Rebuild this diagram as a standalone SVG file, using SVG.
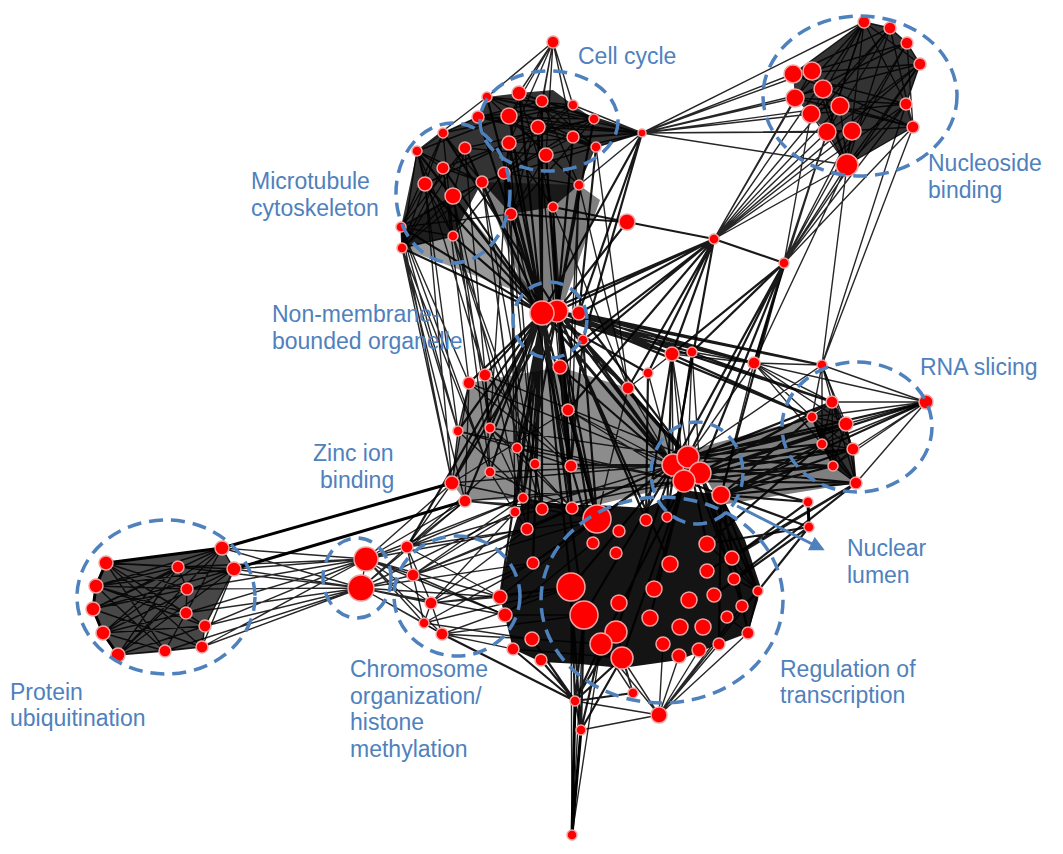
<svg xmlns="http://www.w3.org/2000/svg" width="1063" height="854" viewBox="0 0 1063 854">
<defs>
<style>
.hull{fill:#000;stroke:none}
.e1{fill:none;stroke:#000;stroke-width:1.4;stroke-opacity:.85}
.e2{fill:none;stroke:#000;stroke-width:2.2;stroke-opacity:.9}
.e3{fill:none;stroke:#000;stroke-width:3}
.nd circle{fill:#ff0000;stroke:#f2a2a2;stroke-width:1.5}
.cl{fill:none;stroke:#4f81bd;stroke-width:3.5;stroke-dasharray:14 8}
.lb{font-family:"Liberation Sans",Arial,sans-serif;font-size:23px;fill:#4f81bd}
</style>
<marker id="ah" viewBox="0 0 10 10" refX="8" refY="5" markerWidth="5" markerHeight="5" orient="auto" markerUnits="strokeWidth"><path d="M0,0 L10,5 L0,10 z" fill="#4f81bd"/></marker>
</defs>
<rect width="1063" height="854" fill="#fff"/>
<g id="connectors">
<polygon class="hull" opacity=".8" points="487,97 519,93 553,90 573,105 594,119 642,133 596,147 579,185 553,207 511,214 482,182 453,236 402,248 401,227 417,151 443,133 478,117"/>
<polygon class="hull" opacity=".8" points="864,22 890,28 907,43 920,64 906,104 913,127 847,165 827,132 795,98 793,74"/>
<polygon class="hull" opacity=".72" points="106,563 222,548 234,569 205,626 202,647 165,651 118,655 103,633 93,609 96,586"/>
<polygon class="hull" opacity=".92" points="523,499 573,505 597,505 646,508 683,490 721,495 745,540 760,585 758,600 748,633 719,644 679,660 622,668 580,664 541,662 513,649 500,597 510,540"/>
<polygon class="hull" opacity=".8" points="832,402 846,424 853,449 856,483 833,466 822,444 812,417"/>
<polygon class="hull" opacity=".45" points="469,383 560,367 628,388 672,440 683,484 597,505 523,499 465,501 452,483 458,431"/>
<polygon class="hull" opacity=".5" points="690,450 812,417 856,483 721,505"/>
<polygon class="hull" opacity=".5" points="482,182 579,185 600,200 565,300 530,305"/>
<polygon class="hull" opacity=".4" points="401,227 453,196 540,300 402,248"/>
<path class="e1" d="M487 97L573 105M487 97L594 119M487 97L642 133M487 97L596 147M487 97L579 185M519 93L594 119M519 93L596 147M519 93L642 133M519 93L504 173M542 101L478 117M542 101L596 147M542 101L511 214M573 105L478 117M573 105L509 143M573 105L504 173M594 119L478 117M594 119L509 143M594 119L511 214M478 117L642 133M509 116L642 133M538 127L642 133M573 137L642 133M546 155L642 133M509 143L642 133M478 117L596 147M509 116L579 185M538 127L504 173M509 143L553 207M546 155L511 214M504 173L579 185M509 116L596 147M519 93L553 207M542 101L579 185M594 119L504 173M573 137L478 117M573 137L504 173M596 147L642 133M594 119L642 133M573 105L642 133M579 185L642 133M553 42L487 97M553 42L519 93M553 42L542 101M553 42L538 127M553 42L546 155M553 42L509 116M553 42L573 105M553 42L509 143M553 42L573 137"/>
<path class="e1" d="M443 133L425 184M443 133L401 227M443 133L453 236M417 151L482 182M417 151L453 236M465 148L401 227M465 148L402 248M443 168L482 182M443 168L453 236M425 184L453 236M482 182L401 227M482 182L402 248M453 196L401 227M453 196L402 248M401 227L453 236M453 236L402 248M417 151L402 248M443 133L482 182M443 168L402 248M425 184L402 248M417 151L509 116M443 133L478 117M465 148L546 155M443 168L509 143M482 182L596 147M425 184L509 143M453 196L504 173M401 227L511 214M453 236L504 173M417 151L487 97M443 133L573 105M465 148L594 119M443 133L417 151M417 151L425 184M425 184L401 227M401 227L402 248M417 151L443 168M465 148L453 196"/>
<path class="e2" d="M538 127L542 313M509 143L542 313M546 155L557 311M504 173L542 313M579 185L557 311M553 207L557 311M511 214L542 313M573 137L557 311M596 147L579 313M509 116L542 313M478 117L542 313M482 182L542 313M453 196L542 313M453 236L542 313M401 227L542 313M402 248L542 313M465 148L542 313M443 168L542 313M425 184L542 313M594 119L557 311M542 101L542 313M519 93L542 313M487 97L542 313M443 133L557 311M417 151L542 313M642 133L579 313M642 133L542 313M642 133L583 340"/>
<path class="e1" d="M401 227L469 383M402 248L458 431M402 248L452 483M401 227L452 483M453 236L485 375M453 196L490 428M425 184L458 431M453 196L490 472M511 214L517 448M504 173L535 464M553 207L568 410M579 185L571 466M546 155L568 410M482 182L517 448M453 236L535 464M511 214L571 466M443 168L469 383M417 151L485 375M425 184L452 483M402 248L465 501M509 143L490 428M504 173L523 498M553 207L572 508M579 185L628 388M453 236L542 509M511 214L515 512M482 182L523 498M453 196L527 529M401 227L490 472M402 248L490 472M596 147L628 388M553 207L628 388M579 185L568 410M546 155L571 466M401 227L458 431M465 148L490 428M509 143L535 464M482 182L542 509M538 127L572 508"/>
<path class="e2" d="M627 222L511 214M627 222L557 311M627 222L714 239M627 222L553 207M714 239L557 311M714 239L579 313M714 239L583 340M714 239L560 367M714 239L672 354M714 239L784 263M714 239L568 410M714 239L648 373M714 239L673 465M714 239L542 313M714 239L628 388M784 263L754 363M784 263L688 457M784 263L700 473M784 263L692 352M784 263L721 495M784 263L672 354M784 263L673 465"/>
<path class="e1" d="M793 74L642 133M812 71L642 133M795 98L642 133M811 114L642 133M823 89L642 133M827 132L642 133M840 106L642 133M847 165L642 133M864 22L642 133M852 131L642 133M864 22L714 239M890 28L714 239M812 71L714 239M840 106L714 239M906 104L714 239M847 165L714 239M852 131L714 239M827 132L714 239M920 64L714 239M795 98L714 239M847 165L784 263M827 132L784 263M852 131L784 263M913 127L784 263M906 104L784 263M907 43L784 263M920 64L784 263M811 114L784 263M864 22L784 263M913 127L822 365M847 165L822 365M906 104L822 365M827 132L754 363M847 165L754 363"/>
<path class="e1" d="M864 22L793 74M864 22L795 98M864 22L811 114M864 22L827 132M864 22L847 165M890 28L793 74M890 28L811 114M890 28L827 132M890 28L847 165M907 43L812 71M907 43L795 98M907 43L852 131M920 64L793 74M920 64L823 89M920 64L827 132M920 64L847 165M906 104L793 74M906 104L795 98M906 104L811 114M906 104L847 165M913 127L793 74M913 127L795 98M913 127L840 106M913 127L847 165M913 127L827 132M812 71L847 165M823 89L847 165M840 106L847 165M811 114L847 165M827 132L847 165M852 131L847 165M864 22L906 104M890 28L913 127M907 43L913 127M864 22L920 64M864 22L890 28M890 28L907 43M907 43L920 64M920 64L906 104M906 104L913 127"/>
<path class="e2" d="M542 313L485 375M542 313L469 383M542 313L458 431M542 313L490 428M542 313L517 448M542 313L535 464M542 313L490 472M542 313L452 483M542 313L465 501M542 313L523 498M542 313L515 512M542 313L542 509M542 313L572 508M542 313L571 466M542 313L568 410M542 313L597 519M542 313L527 529M542 313L533 563M542 313L571 587M542 313L407 547M542 313L673 465M542 313L684 481M542 313L628 388M542 313L672 354M542 313L692 352M542 313L648 373M542 313L754 363M542 313L500 597M542 313L584 615M557 311L568 410M557 311L571 466M557 311L572 508M557 311L597 519M557 311L673 465M557 311L688 457M557 311L700 473M557 311L593 543M557 311L670 564M557 311L628 388M557 311L672 354M557 311L754 363M557 311L822 365M557 311L832 402M557 311L812 417M557 311L646 520M557 311L517 448M557 311L523 498M557 311L452 483M579 313L754 363M579 313L822 365M579 313L688 457M579 313L812 417M579 313L832 402M583 340L673 465M583 340L597 519M583 340L571 466M560 367L568 410M560 367L571 466M560 367L673 465M560 367L597 519M560 367L572 508"/>
<path class="e1" d="M485 375L490 472M485 375L490 428M469 383L458 431M469 383L452 483M469 383L465 501M458 431L452 483M458 431L517 448M490 428L535 464M490 428L523 498M517 448L571 466M517 448L572 508M535 464L542 509M571 466L673 465M490 472L515 512M452 483L523 498M465 501L542 509M523 498L597 519M515 512L527 529M542 509L597 519M572 508L597 519M568 410L673 465M568 410L684 481M628 388L673 465M628 388L688 457M628 388L597 519M648 373L673 465M672 354L688 457M672 354L673 465M672 354L684 481M692 352L700 473M692 352L688 457M754 363L688 457M754 363L721 495M754 363L832 402M754 363L812 417M822 365L926 402M822 365L832 402M822 365L846 424M822 365L688 457M672 354L754 363M692 352L754 363M754 363L822 365M568 410L452 483M490 428L572 508M458 431L542 509M469 383L571 466M485 375L571 466M490 472L572 508M452 483L572 508M465 501L572 508M452 483L673 465M465 501L684 481M523 498L684 481M515 512L673 465M542 509L684 481M535 464L673 465M517 448L684 481M490 472L673 465M458 431L684 481M490 428L688 457M485 375L688 457M469 383L673 465M672 354L648 373M648 373L628 388M672 354L692 352"/>
<path class="e2" d="M688 457L926 402M700 473L926 402M721 495L926 402M673 465L832 402M688 457L812 417M700 473L846 424M684 481L822 444M721 495L853 449M700 473L833 466M721 495L856 483M688 457L822 444M673 465L853 449M684 481L856 483M721 495L812 417M700 473L832 402M684 481L832 402M688 457L833 466M673 465L856 483M721 495L808 502M721 495L809 527M700 473L808 502M684 481L809 527M673 465L808 502M707 544L809 527M732 558L808 502M721 495L833 466M721 495L822 444M700 473L853 449M688 457L846 424M673 465L846 424M684 481L833 466"/>
<path class="e1" d="M926 402L754 363M926 402L832 402M926 402L812 417M926 402L846 424M926 402L822 444M926 402L853 449M926 402L833 466M926 402L856 483M822 365L812 417M822 365L822 444M822 365L853 449M754 363L846 424M754 363L822 444M832 402L846 424M832 402L822 444M832 402L853 449M832 402L833 466M832 402L856 483M812 417L846 424M812 417L853 449M812 417L833 466M812 417L856 483M846 424L822 444M846 424L833 466M846 424L856 483M822 444L853 449M822 444L856 483M853 449L833 466M853 449L856 483M833 466L856 483M832 402L812 417M812 417L822 444M822 444L833 466"/>
<path class="e3" d="M808 502L809 527"/>
<path class="e2" d="M673 465L597 519M673 465L527 529M673 465L533 563M673 465L571 587M673 465L584 615M673 465L616 632M684 481L654 589M684 481L650 618M684 481L601 644M700 473L732 558M700 473L758 591M700 473L742 606M721 495L758 591M721 495L748 633M721 495L719 644M688 457L707 544M688 457L734 579M684 481L622 658M646 520L672 354M667 517L672 354M597 519L568 410M593 543L571 466M707 544L822 444M732 558L856 483M707 571L856 483M734 579L856 483M758 591L809 527M714 595L809 527M667 517L692 352M646 520L648 373"/>
<path class="e1" d="M758 591L659 715M748 633L659 715M719 644L659 715M699 650L659 715M679 656L659 715M663 644L659 715M622 658L659 715M601 644L659 715M659 715L575 701M659 715L581 730M742 606L659 715M758 591L748 633M732 558L758 591M734 579L758 591M707 544L758 591M633 693L622 658M633 693L601 644M633 693L616 632M758 591L742 606M742 606L748 633M727 617L748 633M500 597L571 587M505 615L584 615M532 639L601 644M513 649L622 658M500 597L597 519M505 615L593 543"/>
<path class="e2" d="M575 701L571 587M575 701L584 615M575 701L601 644M575 701L532 639M575 701L541 660M575 701L513 649M575 701L616 632M575 701L622 658M575 701L581 730M581 730L584 615M581 730L601 644M581 730L571 587M581 730L622 658M442 634L575 701M575 701L633 693"/>
<path class="e3" d="M572 835L575 701M572 835L581 730"/>
<path class="e1" d="M572 835L584 615M572 835L571 587M572 835L601 644"/>
<path class="e1" d="M366 559L407 547M366 559L413 575M366 559L431 603M366 559L424 623M366 559L442 634M361 588L407 547M361 588L413 575M361 588L431 603M361 588L424 623M361 588L442 634M366 559L452 483M366 559L465 501M361 588L465 501M366 559L500 597M361 588L500 597M361 588L505 615M366 559L505 615M366 559L523 498M361 588L515 512M366 559L527 529M361 588L533 563M366 559L361 588"/>
<path class="e1" d="M222 548L366 559M222 548L361 588M234 569L366 559M234 569L361 588M178 567L366 559M187 589L361 588M186 613L366 559M186 613L361 588M205 626L366 559M205 626L361 588M202 647L366 559M202 647L361 588M165 651L361 588M187 589L366 559M178 567L361 588"/>
<path class="e3" d="M222 548L452 483M234 569L465 501"/>
<path class="e1" d="M106 563L222 548M106 563L234 569M106 563L205 626M106 563L202 647M96 586L222 548M96 586L234 569M96 586L186 613M96 586L205 626M93 609L222 548M93 609L234 569M93 609L187 589M93 609L202 647M103 633L222 548M103 633L234 569M103 633L178 567M103 633L205 626M118 655L222 548M118 655L234 569M118 655L187 589M118 655L202 647M165 651L106 563M165 651L222 548M178 567L118 655M187 589L106 563M186 613L106 563M205 626L118 655M202 647L165 651M118 655L165 651M106 563L96 586M96 586L93 609M93 609L103 633M103 633L118 655M222 548L234 569M234 569L205 626M205 626L202 647M178 567L187 589M187 589L186 613M186 613L205 626M178 567L93 609M178 567L96 586M186 613L103 633M187 589L96 586M165 651L96 586M165 651L103 633M106 563L178 567M234 569L202 647"/>
<path class="e3" d="M106 563L96 586L93 609L103 633L118 655M106 563L222 548"/>
<path class="e1" d="M407 547L452 483M407 547L465 501M407 547L523 498M413 575L515 512M413 575L527 529M431 603L533 563M431 603L571 587M424 623L571 587M442 634L584 615M442 634L532 639M407 547L597 519M413 575L597 519M431 603L527 529M424 623L533 563M442 634L571 587M407 547L542 509M413 575L572 508M442 634L513 649M424 623L532 639M431 603L500 597M407 547L500 597M413 575L505 615M431 603L442 634M407 547L431 603M413 575L424 623M407 547L413 575M431 603L424 623M424 623L442 634M407 547L490 472M413 575L523 498M431 603L515 512"/>
</g>
<g id="cell-cycle" class="nd">
<circle cx="553" cy="42" r="6"/><circle cx="487" cy="97" r="5"/><circle cx="519" cy="93" r="7"/><circle cx="542" cy="101" r="6"/><circle cx="573" cy="105" r="5"/><circle cx="594" cy="119" r="5"/><circle cx="478" cy="117" r="6"/><circle cx="509" cy="116" r="8"/><circle cx="538" cy="127" r="7"/><circle cx="573" cy="137" r="6"/><circle cx="596" cy="147" r="5"/><circle cx="509" cy="143" r="7"/><circle cx="546" cy="155" r="7"/><circle cx="504" cy="173" r="6"/><circle cx="579" cy="185" r="5"/><circle cx="553" cy="207" r="5"/><circle cx="511" cy="214" r="6"/><circle cx="642" cy="133" r="4"/>
</g>
<g id="microtubule-cytoskeleton" class="nd">
<circle cx="443" cy="133" r="5"/><circle cx="417" cy="151" r="5"/><circle cx="465" cy="148" r="6"/><circle cx="443" cy="168" r="6"/><circle cx="425" cy="184" r="7"/><circle cx="482" cy="182" r="6"/><circle cx="453" cy="196" r="8"/><circle cx="401" cy="227" r="5"/><circle cx="453" cy="236" r="5"/><circle cx="402" cy="248" r="5"/>
</g>
<g id="nucleoside-binding" class="nd">
<circle cx="864" cy="22" r="6"/><circle cx="890" cy="28" r="6"/><circle cx="907" cy="43" r="6"/><circle cx="920" cy="64" r="6"/><circle cx="793" cy="74" r="9"/><circle cx="812" cy="71" r="9"/><circle cx="823" cy="89" r="9"/><circle cx="795" cy="98" r="9"/><circle cx="840" cy="106" r="9"/><circle cx="811" cy="114" r="9"/><circle cx="906" cy="104" r="6"/><circle cx="913" cy="127" r="6"/><circle cx="827" cy="132" r="9"/><circle cx="852" cy="131" r="9"/><circle cx="847" cy="165" r="11"/>
</g>
<g id="non-membrane-bounded-organelle" class="nd">
<circle cx="557" cy="311" r="11"/><circle cx="542" cy="313" r="12"/><circle cx="579" cy="313" r="7"/><circle cx="583" cy="340" r="5"/><circle cx="560" cy="367" r="7"/>
</g>
<g id="central-nodes" class="nd">
<circle cx="627" cy="222" r="8"/><circle cx="714" cy="239" r="5"/><circle cx="784" cy="263" r="5"/>
<circle cx="485" cy="375" r="6"/><circle cx="469" cy="383" r="6"/><circle cx="628" cy="388" r="6"/><circle cx="568" cy="410" r="6"/><circle cx="458" cy="431" r="5"/><circle cx="490" cy="428" r="5"/><circle cx="517" cy="448" r="5"/><circle cx="535" cy="464" r="5"/><circle cx="571" cy="466" r="6"/><circle cx="490" cy="472" r="5"/><circle cx="452" cy="483" r="7"/><circle cx="465" cy="501" r="6"/><circle cx="523" cy="498" r="5"/><circle cx="515" cy="512" r="5"/><circle cx="542" cy="509" r="6"/><circle cx="572" cy="508" r="6"/><circle cx="672" cy="354" r="7"/><circle cx="692" cy="352" r="5"/><circle cx="648" cy="373" r="5"/><circle cx="754" cy="363" r="6"/><circle cx="822" cy="365" r="5"/><circle cx="808" cy="502" r="5"/><circle cx="809" cy="527" r="5"/>
</g>
<g id="rna-slicing" class="nd">
<circle cx="926" cy="402" r="7"/><circle cx="832" cy="402" r="6"/><circle cx="812" cy="417" r="5"/><circle cx="846" cy="424" r="7"/><circle cx="822" cy="444" r="5"/><circle cx="853" cy="449" r="6"/><circle cx="833" cy="466" r="5"/><circle cx="856" cy="483" r="6"/>
</g>
<g id="nuclear-lumen" class="nd">
<circle cx="673" cy="465" r="11"/><circle cx="688" cy="457" r="11"/><circle cx="700" cy="473" r="11"/><circle cx="684" cy="481" r="11"/><circle cx="721" cy="495" r="9"/>
</g>
<g id="regulation-of-transcription" class="nd">
<circle cx="597" cy="519" r="14"/><circle cx="619" cy="531" r="6"/><circle cx="646" cy="520" r="6"/><circle cx="667" cy="517" r="5"/><circle cx="527" cy="529" r="6"/><circle cx="593" cy="543" r="6"/><circle cx="616" cy="553" r="6"/><circle cx="707" cy="544" r="8"/><circle cx="533" cy="563" r="6"/><circle cx="670" cy="564" r="8"/><circle cx="732" cy="558" r="7"/><circle cx="707" cy="571" r="7"/><circle cx="734" cy="579" r="6"/><circle cx="758" cy="591" r="5"/><circle cx="571" cy="587" r="14"/><circle cx="654" cy="589" r="8"/><circle cx="714" cy="595" r="7"/><circle cx="689" cy="600" r="8"/><circle cx="584" cy="615" r="14"/><circle cx="619" cy="603" r="8"/><circle cx="742" cy="606" r="6"/><circle cx="500" cy="597" r="7"/><circle cx="505" cy="615" r="7"/><circle cx="650" cy="618" r="8"/><circle cx="703" cy="627" r="8"/><circle cx="680" cy="627" r="8"/><circle cx="727" cy="617" r="6"/><circle cx="616" cy="632" r="11"/><circle cx="601" cy="644" r="11"/><circle cx="532" cy="639" r="7"/><circle cx="663" cy="644" r="7"/><circle cx="748" cy="633" r="6"/><circle cx="622" cy="658" r="11"/><circle cx="513" cy="649" r="6"/><circle cx="541" cy="660" r="6"/><circle cx="679" cy="656" r="7"/><circle cx="699" cy="650" r="7"/><circle cx="719" cy="644" r="6"/><circle cx="633" cy="693" r="5"/><circle cx="659" cy="715" r="8"/>
<circle cx="575" cy="701" r="5"/><circle cx="581" cy="730" r="5"/><circle cx="572" cy="835" r="5"/>
</g>
<g id="chromosome-organization" class="nd">
<circle cx="407" cy="547" r="6"/><circle cx="413" cy="575" r="6"/><circle cx="431" cy="603" r="6"/><circle cx="424" cy="623" r="5"/><circle cx="442" cy="634" r="6"/>
</g>
<g id="zinc-ion-binding" class="nd">
<circle cx="366" cy="559" r="12"/><circle cx="361" cy="588" r="13"/>
</g>
<g id="protein-ubiquitination" class="nd">
<circle cx="222" cy="548" r="7"/><circle cx="234" cy="569" r="7"/><circle cx="106" cy="563" r="7"/><circle cx="178" cy="567" r="6"/><circle cx="96" cy="586" r="7"/><circle cx="187" cy="589" r="6"/><circle cx="93" cy="609" r="7"/><circle cx="186" cy="613" r="6"/><circle cx="205" cy="626" r="6"/><circle cx="103" cy="633" r="7"/><circle cx="202" cy="647" r="6"/><circle cx="118" cy="655" r="7"/><circle cx="165" cy="651" r="6"/>
</g>
<g id="clusters">
<ellipse class="cl" cx="549" cy="121" rx="69" ry="50"/>
<ellipse class="cl" cx="453" cy="193" rx="57" ry="70"/>
<ellipse class="cl" cx="860" cy="96" rx="97" ry="80"/>
<ellipse class="cl" cx="550" cy="320" rx="37" ry="38"/>
<ellipse class="cl" cx="857" cy="427" rx="75" ry="65"/>
<ellipse class="cl" cx="697" cy="473" rx="46" ry="51"/>
<ellipse class="cl" cx="662" cy="600" rx="121" ry="103"/>
<ellipse class="cl" cx="357" cy="578" rx="34" ry="40"/>
<ellipse class="cl" cx="457" cy="596" rx="63" ry="60"/>
<ellipse class="cl" cx="166" cy="597" rx="89" ry="77"/>
<line x1="737" y1="506" x2="822" y2="549" stroke="#4f81bd" stroke-width="3" marker-end="url(#ah)"/>
</g>
<g id="labels" class="lb">
<text x="578" y="64">Cell cycle</text>
<text x="928" y="171">Nucleoside</text>
<text x="928" y="198">binding</text>
<text x="251" y="189">Microtubule</text>
<text x="251" y="216">cytoskeleton</text>
<text x="272" y="322">Non-membrane-</text>
<text x="272" y="349">bounded organelle</text>
<text x="920" y="375">RNA slicing</text>
<text x="313" y="461">Zinc ion</text>
<text x="320" y="488">binding</text>
<text x="847" y="556">Nuclear</text>
<text x="847" y="583">lumen</text>
<text x="780" y="677">Regulation of</text>
<text x="780" y="703">transcription</text>
<text x="10" y="700">Protein</text>
<text x="10" y="726">ubiquitination</text>
<text x="350" y="677">Chromosome</text>
<text x="350" y="704">organization/</text>
<text x="350" y="730">histone</text>
<text x="350" y="757">methylation</text>
</g>
</svg>
